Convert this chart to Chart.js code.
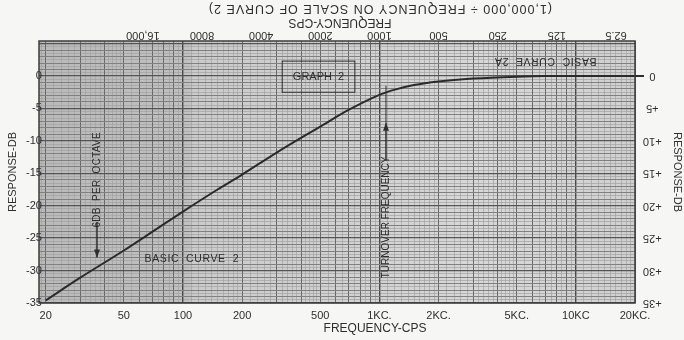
<!DOCTYPE html>
<html>
<head>
<meta charset="utf-8">
<script src="https://cdn.jsdelivr.net/npm/chart.js@4.4.1/dist/chart.umd.min.js"></script>
<style>
  html, body { margin: 0; padding: 0; background: #f6f6f4; }
  #wrap { width: 684px; height: 340px; }
</style>
</head>
<body>
<div id="wrap"><canvas id="chart" width="684" height="340"></canvas></div>
<script>
// basic curve 2
const frequencies = [20, 30, 50, 70, 100, 150, 200, 300, 500, 700, 1000, 1200, 1500, 2000, 3000, 5000, 7000, 10000, 20000];
const responseDb = [-34.6, -31.1, -26.9, -24.0, -20.9, -17.5, -15.2, -11.8, -7.8, -5.2, -2.9, -2.1, -1.4, -0.85, -0.4, -0.1, 0, 0, 0];

// bottom axis (cps)
const bottomTickValues = [20, 50, 100, 200, 500, 1000, 2000, 5000, 10000, 20000];
const bottomTickLabels = ['20', '50', '100', '200', '500', '1KC.', '2KC.', '5KC.', '10KC', '20KC.'];
// top axis: 1,000,000 / frequency
const topTickLabels = ['62.5', '125', '250', '500', '1000', '2000', '4000', '8000', '16,000'];
const topTickNumbers = [62.5, 125, 250, 500, 1000, 2000, 4000, 8000, 16000];
// response axes
const leftTickValues = [0, -5, -10, -15, -20, -25, -30, -35];
const leftTickLabels = ['0', '-5', '-10', '-15', '-20', '-25', '-30', '-35'];
const rightTickLabels = ['0', '+5', '+10', '+15', '+20', '+25', '+30', '+35'];

const xMin = 18.5, xMax = 20000;
const yMin = -35, yMax = 5.4;
const ink = '#2e2e2e';
const FONT = 'Liberation Sans';

// graph paper rulings
const majorFreqs = [];
const fineFreqs = [];
for (let d = 10; d <= 10000; d *= 10) {
  for (let m = 1; m <= 9; m++) majorFreqs.push(d * m);
  for (let k = 10; k < 100; k += (k < 20 ? 1 : k < 50 ? 2 : 5)) fineFreqs.push(d * k / 10);
}
const xMajor = majorFreqs.filter(v => v >= xMin && v <= xMax);
const xFine = fineFreqs.filter(v => v >= xMin && v <= xMax && !majorFreqs.includes(v));
const yMajor = [];
const yFine = [];
for (let v = -35; v <= 5; v++) yMajor.push(v);
for (let v = -34.5; v < yMax; v += 1) yFine.push(v);

const paperPlugin = {
  id: 'paper',
  beforeDraw(chart) {
    const { ctx, chartArea: a } = chart;
    ctx.save();
    ctx.fillStyle = '#f6f6f4';
    ctx.fillRect(0, 0, chart.width, chart.height);
    const g = ctx.createLinearGradient(a.left, 0, a.right, 0);
    g.addColorStop(0, '#bababa');
    g.addColorStop(0.25, '#c0c0c0');
    g.addColorStop(0.26, '#cbcbcb');
    g.addColorStop(0.55, '#d2d2d2');
    g.addColorStop(0.75, '#d8d8d8');
    g.addColorStop(1, '#d0d0d0');
    ctx.fillStyle = g;
    ctx.fillRect(a.left, a.top, a.right - a.left, a.bottom - a.top);
    ctx.restore();
  }
};

function upsideDown(ctx, text, x, y) {
  ctx.save();
  ctx.translate(x, y);
  ctx.rotate(Math.PI);
  ctx.fillText(text, 0, 0);
  ctx.restore();
}

function sideways(ctx, text, x, y) {
  ctx.save();
  ctx.translate(x, y);
  ctx.rotate(-Math.PI / 2);
  ctx.fillText(text, 0, 0);
  ctx.restore();
}

function arrow(ctx, x, y0, y1) {
  const dir = y1 > y0 ? 1 : -1;
  ctx.beginPath();
  ctx.moveTo(x, y0);
  ctx.lineTo(x, y1);
  ctx.stroke();
  ctx.beginPath();
  ctx.moveTo(x, y1);
  ctx.lineTo(x - 3, y1 - dir * 8);
  ctx.lineTo(x + 3, y1 - dir * 8);
  ctx.closePath();
  ctx.fill();
}

const notesPlugin = {
  id: 'notes',
  afterDraw(chart) {
    const { ctx, chartArea: a, scales } = chart;
    const X = v => scales.x.getPixelForValue(v);
    const Y = v => scales.y.getPixelForValue(v);
    ctx.save();

    // frame
    ctx.strokeStyle = '#3c3c3c';
    ctx.lineWidth = 1.5;
    ctx.strokeRect(a.left, a.top, a.right - a.left, a.bottom - a.top);

    // zero line run out to the right-hand label
    ctx.strokeStyle = '#2e2e2e';
    ctx.lineWidth = 2;
    ctx.beginPath();
    ctx.moveTo(a.right, Y(0));
    ctx.lineTo(a.right + 9, Y(0));
    ctx.stroke();

    ctx.fillStyle = ink;
    ctx.strokeStyle = ink;
    ctx.textAlign = 'center';
    ctx.textBaseline = 'middle';

    // top scale, printed upside down
    ctx.font = '11px "' + FONT + '"';
    topTickNumbers.forEach((n, i) => upsideDown(ctx, topTickLabels[i], X(1000000 / n), a.top - 6));
    ctx.font = '12px "' + FONT + '"';
    upsideDown(ctx, 'FREQUENCY-CPS', 340, 22);
    ctx.font = '12.5px "' + FONT + '"';
    ctx.letterSpacing = '1px';
    upsideDown(ctx, '(1,000,000 \u00F7 FREQUENCY ON SCALE OF CURVE 2)', 380, 8);
    ctx.letterSpacing = '0px';

    // bottom title
    ctx.font = '12px "' + FONT + '"';
    ctx.fillText('FREQUENCY-CPS', 375, 329);

    // graph label box
    ctx.lineWidth = 1;
    ctx.strokeRect(X(320), Y(2.3), X(750) - X(320), Y(-2.5) - Y(2.3));
    ctx.font = '11px "' + FONT + '"';
    ctx.fillText('GRAPH  2', (X(320) + X(750)) / 2, Y(-0.1));

    // curve names
    ctx.font = '10.5px "' + FONT + '"';
    ctx.letterSpacing = '0.6px';
    ctx.fillText('BASIC  CURVE  2', X(111), Y(-28.2));
    upsideDown(ctx, 'BASIC  CURVE  2A', X(7000), Y(2.3));
    ctx.letterSpacing = '0px';

    // slope note with arrow
    ctx.font = '10px "' + FONT + '"';
    ctx.letterSpacing = '0.3px';
    sideways(ctx, '6DB  PER  OCTAVE', X(36.5), Y(-16));
    ctx.letterSpacing = '0px';
    ctx.lineWidth = 1.5;
    arrow(ctx, X(36.5), Y(-22.5), Y(-28));

    // turnover note with arrow
    sideways(ctx, 'TURNOVER FREQUENCY', X(1080), Y(-21.8));
    arrow(ctx, X(1080), Y(-13), Y(-7.2));
    ctx.lineWidth = 1;
    ctx.beginPath();
    ctx.moveTo(X(1080), Y(-7.2));
    ctx.lineTo(X(1080), Y(-1.5));
    ctx.stroke();

    ctx.restore();
  }
};

const ctx = document.getElementById('chart').getContext('2d');
new Chart(ctx, {
  type: 'line',
  data: {
    datasets: [{
      label: 'Basic curve 2',
      data: frequencies.map((f, i) => ({ x: f, y: responseDb[i] })),
      borderColor: '#2a2a2a',
      borderWidth: 2,
      pointRadius: 0,
      cubicInterpolationMode: 'monotone',
      xAxisID: 'x',
      yAxisID: 'y'
    }]
  },
  options: {
    responsive: false,
    animation: false,
    layout: { padding: { top: 41, left: 0, right: 0, bottom: 0 } },
    plugins: {
      legend: { display: false },
      tooltip: { enabled: false }
    },
    scales: {
      xFine: {
        type: 'logarithmic', position: 'bottom', min: xMin, max: xMax,
        afterBuildTicks: s => { s.ticks = xFine.map(v => ({ value: v })); },
        afterFit: s => { s.height = 0; },
        ticks: { display: false },
        grid: { drawTicks: false, color: '#a2a2a2', lineWidth: 0.7 },
        border: { display: false }
      },
      yFine: {
        type: 'linear', position: 'left', min: yMin, max: yMax,
        afterBuildTicks: s => { s.ticks = yFine.map(v => ({ value: v })); },
        afterFit: s => { s.width = 0; },
        ticks: { display: false },
        grid: { drawTicks: false, color: '#a2a2a2', lineWidth: 0.7 },
        border: { display: false }
      },
      x: {
        type: 'logarithmic', position: 'bottom', min: xMin, max: xMax,
        afterBuildTicks: s => { s.ticks = xMajor.map(v => ({ value: v })); },
        afterFit: s => { s.height = 37; },
        ticks: {
          autoSkip: false, maxRotation: 0, minRotation: 0, padding: 6,
          color: ink, font: { family: FONT, size: 11 },
          callback: v => {
            const i = bottomTickValues.indexOf(v);
            return i >= 0 ? bottomTickLabels[i] : '';
          }
        },
        grid: {
          drawTicks: false,
          color: c => (c.tick && [100, 1000, 10000].includes(c.tick.value)) ? '#4a4a4a' : '#6a6a6a',
          lineWidth: c => (c.tick && [100, 1000, 10000].includes(c.tick.value)) ? 1.4 : 1
        },
        border: { display: false }
      },
      y: {
        type: 'linear', position: 'left', min: yMin, max: yMax,
        afterBuildTicks: s => { s.ticks = yMajor.map(v => ({ value: v })); },
        afterFit: s => { s.width = 39; },
        ticks: {
          autoSkip: false, mirror: true, crossAlign: 'far', padding: -13,
          color: ink, font: { family: FONT, size: 11 },
          callback: v => {
            const i = leftTickValues.indexOf(v);
            return i >= 0 ? leftTickLabels[i] : '';
          }
        },
        grid: {
          drawTicks: false,
          color: c => (c.tick && c.tick.value % 5 === 0) ? '#555555' : '#808080',
          lineWidth: c => (c.tick && c.tick.value % 5 === 0) ? 1.3 : 1
        },
        border: { display: false },
        title: {
          display: true, text: 'RESPONSE-DB', color: ink,
          font: { family: FONT, size: 11 }, padding: { top: 6, bottom: 0 }
        }
      },
      yRight: {
        type: 'linear', position: 'right', min: yMin, max: yMax,
        afterBuildTicks: s => { s.ticks = leftTickValues.map(v => ({ value: v })); },
        afterFit: s => { s.width = 49; },
        ticks: {
          autoSkip: false, minRotation: 180, maxRotation: 180,
          crossAlign: 'center', padding: 8,
          color: ink, font: { family: FONT, size: 11 },
          callback: v => {
            const i = leftTickValues.indexOf(v);
            return i >= 0 ? rightTickLabels[i] : '';
          }
        },
        grid: { display: false, drawTicks: false },
        border: { display: false },
        title: {
          display: true, text: 'RESPONSE-DB', color: ink,
          font: { family: FONT, size: 11 }, padding: { top: 0, bottom: 0 }
        }
      }
    }
  },
  plugins: [paperPlugin, notesPlugin]
});
</script>
</body>
</html>
